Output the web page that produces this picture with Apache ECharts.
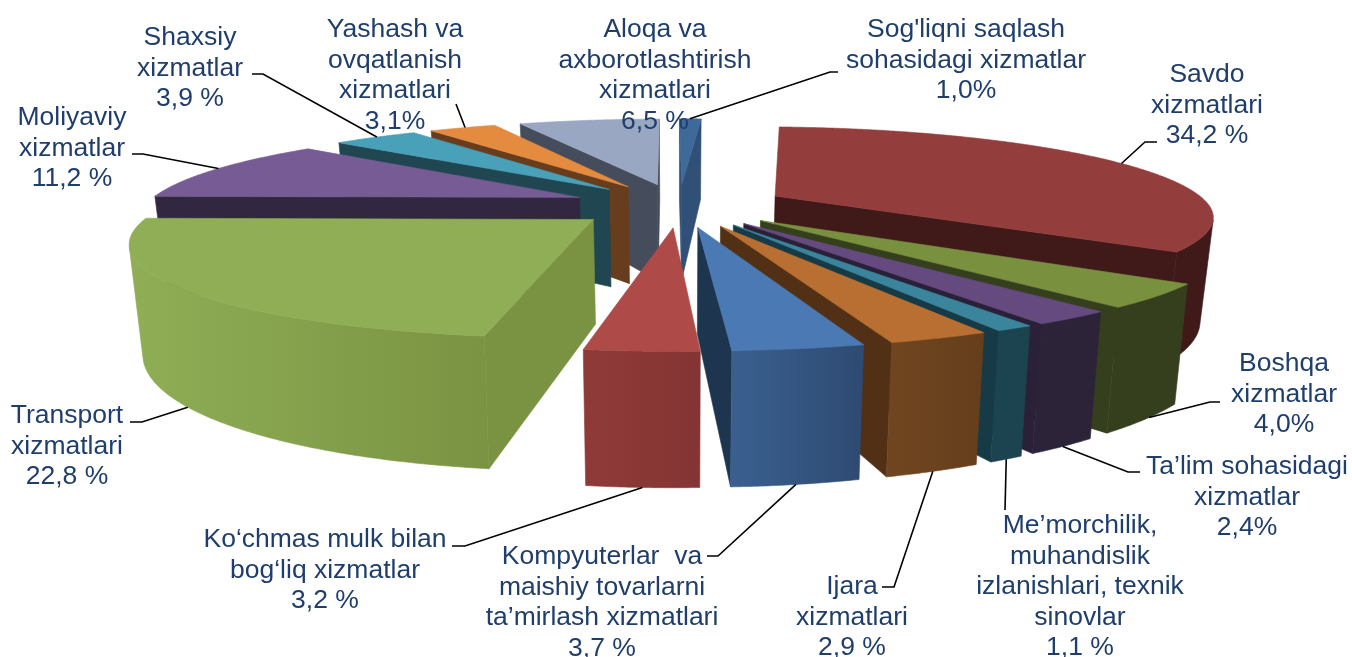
<!DOCTYPE html>
<html>
<head>
<meta charset="utf-8">
<title>Xizmatlar</title>
<script src="https://cdn.jsdelivr.net/npm/echarts@6/dist/echarts.min.js"></script>
<style>
  html, body { margin: 0; background: #fff; }
  #chart { width: 1352px; height: 657px; }
</style>
</head>
<body>
<div id="chart"></div>
<script>
// clockwise from the top, as in the source
var names = [
  'Savdo\nxizmatlari',
  'Boshqa\nxizmatlar',
  'Ta’lim sohasidagi\nxizmatlar',
  'Me’morchilik,\nmuhandislik\nizlanishlari, texnik\nsinovlar',
  'Ijara\nxizmatlari',
  'Kompyuterlar  va\nmaishiy tovarlarni\nta’mirlash xizmatlari',
  'Ko‘chmas mulk bilan\nbog‘liq xizmatlar',
  'Transport\nxizmatlari',
  'Moliyaviy\nxizmatlar',
  'Shaxsiy\nxizmatlar',
  'Yashash va\novqatlanish\nxizmatlari',
  'Aloqa va\naxborotlashtirish\nxizmatlari',
  'Sog\'liqni saqlash\nsohasidagi xizmatlar'
];
var values = [34.2, 4.0, 2.4, 1.1, 2.9, 3.7, 3.2, 22.8, 11.2, 3.9, 3.1, 6.5, 1.0];
var valueTexts = ['34,2 %', '4,0%', '2,4%', '1,1 %', '2,9 %', '3,7 %', '3,2 %', '22,8 %', '11,2 %', '3,9 %', '3,1%', '6,5 %', '1,0%'];

var topColors = ['#933d3c', '#79913f', '#644a7e', '#3a849c', '#b96f32', '#4a79b3', '#ae4a47', '#8fae55', '#765b94', '#48a0b9', '#e48b3f', '#9aa7c3', '#3d6a99'];
var cutColors = ['#401a18', '#363f1d', '#2a2038', '#163a46', '#513015', '#1e3550', '#8a3836', '#7a9343', '#322740', '#1f4651', '#683d1d', '#454c5b', '#305078'];
var wallLeft = ['#401a18', '#363f1d', '#2c2339', '#1b4350', '#704620', '#3a6090', '#8f3a38', '#8fae55', '#322740', '#1f4651', '#683d1d', '#454c5b', '#305078'];
var wallRight = ['#401a18', '#363f1d', '#2c2339', '#1b4350', '#653e1c', '#2e4a72', '#843533', '#7a9343', '#322740', '#1f4651', '#683d1d', '#454c5b', '#305078'];

// label centre x, first line centre y, leader elbow points, where the leader lands: [share of the rim, 0 top / 1 bottom]
var labelLayout = [
  { x: 1207, y: 75, line: [[1157, 142], [1145, 142]], at: [0.5, 0] },
  { x: 1284, y: 364, line: [[1220, 402], [1210, 402]], at: [0.44, 1] },
  { x: 1247, y: 467, line: [[1140, 472], [1128, 472]], at: [0.5, 1] },
  { x: 1080, y: 526, line: [[1005, 510]], at: [0.5, 1] },
  { x: 852, y: 587, line: [[882, 587], [894, 587]], at: [0.5, 1] },
  { x: 602, y: 557, line: [[707, 556], [718, 556]], at: [0.5, 1] },
  { x: 325, y: 540, line: [[452, 546], [465, 546]], at: [0.5, 1] },
  { x: 67, y: 416, line: [[130, 422], [142, 422]], at: [0.52, 1] },
  { x: 72, y: 118, line: [[132, 154], [143, 154]], at: [0.52, 0] },
  { x: 190, y: 38, line: [[252, 74], [263, 74]], at: [0.52, 0] },
  { x: 395, y: 30, line: [[456, 104]], at: [0.54, 0] },
  { x: 655, y: 30, line: [], at: null },
  { x: 966, y: 30, line: [[838, 72], [830, 72]], at: [0.48, 0] }
];

var textColor = '#1f3e6b';
var fontSize = 26.5;
var lineGap = 30.5;

// projection of the tilted pie
var centerX = 679;
var centerY = 205;
var radius = 434;
var tilt = 0.2;
var perspective = 0.207;
var thickness = 0.233;
var bottomShrink = 0.025;
var explode = 0.25;
var firstAngle = 3.3;

function project(x, y, z) {
  var scale = radius / (1 + perspective * y);
  var s2 = z ? scale * (1 - bottomShrink) : scale;
  return [centerX + s2 * x, centerY - scale * tilt * y + scale * thickness * z];
}

var total = values.reduce(function (a, b) { return a + b; }, 0);
var slices = [];
var acc = 0;
values.forEach(function (v) {
  var a0 = (firstAngle + acc / total * 360) * Math.PI / 180;
  acc += v;
  var a1 = (firstAngle + acc / total * 360) * Math.PI / 180;
  var mid = (a0 + a1) / 2;
  slices.push({ a0: a0, a1: a1, ox: Math.sin(mid) * explode, oy: Math.cos(mid) * explode });
});

function rimPoint(s, a, z) {
  return project(s.ox + Math.sin(a), s.oy + Math.cos(a), z);
}
function facing(p) {
  var area = 0;
  p.forEach(function (q, i) {
    var r = p[(i + 1) % p.length];
    area += q[0] * r[1] - r[0] * q[1];
  });
  return area;
}
function poly(points, color, z2) {
  return {
    type: 'polygon',
    z2: z2,
    shape: { points: points },
    style: { fill: color, stroke: color, lineWidth: 0.6 }
  };
}

function renderSlice(params, api) {
  var i = api.value(0);
  var s = slices[i];
  var z2 = Math.round((1 - Math.cos((s.a0 + s.a1) / 2)) * 100);
  var children = [];
  var c0 = project(s.ox, s.oy, 0), c1 = project(s.ox, s.oy, 1);
  // the two cut faces
  [[s.a0, 1], [s.a1, -1]].forEach(function (e) {
    var face = [c0, rimPoint(s, e[0], 0), rimPoint(s, e[0], 1), c1];
    if (facing(face) * e[1] < 0) children.push(poly(face, cutColors[i], z2));
  });
  // outer wall: only the part of the rim that faces the viewer
  var n = Math.max(40, Math.round((s.a1 - s.a0) * 120));
  var upper = [], lower = [];
  for (var k = 0; k < n; k++) {
    var a = s.a0 + (s.a1 - s.a0) * k / n;
    var b = s.a0 + (s.a1 - s.a0) * (k + 1) / n;
    var q = [rimPoint(s, a, 0), rimPoint(s, b, 0), rimPoint(s, b, 1), rimPoint(s, a, 1)];
    if (facing(q) < 0) {
      if (!upper.length) { upper.push(q[0]); lower.push(q[3]); }
      upper.push(q[1]);
      lower.push(q[2]);
    }
  }
  if (upper.length) {
    var shade = new echarts.graphic.LinearGradient(0, 0, 1, 0, [
      { offset: 0, color: wallLeft[i] },
      { offset: 1, color: wallRight[i] }
    ]);
    children.push(poly(upper.concat(lower.reverse()), shade, z2 + 1));
  }
  var top = [c0];
  for (var m = 0; m <= n; m++) top.push(rimPoint(s, s.a0 + (s.a1 - s.a0) * m / n, 0));
  children.push(poly(top, topColors[i], z2 + 2));
  return { type: 'group', children: children };
}

var graphics = [];
names.forEach(function (name, i) {
  var lay = labelLayout[i];
  graphics.push({
    type: 'text',
    z: 10,
    style: {
      text: name + '\n' + valueTexts[i],
      x: lay.x,
      y: lay.y - lineGap / 2,
      align: 'center',
      verticalAlign: 'top',
      fill: textColor,
      font: fontSize + 'px "Liberation Sans"',
      lineHeight: lineGap
    }
  });
  if (lay.at) {
    var s = slices[i];
    var end = rimPoint(s, s.a0 + (s.a1 - s.a0) * lay.at[0], lay.at[1]);
    graphics.push({
      type: 'polyline',
      z: 9,
      shape: { points: lay.line.concat([end]) },
      style: { stroke: '#000', lineWidth: 1.6, fill: null }
    });
  }
});

var chart = echarts.init(document.getElementById('chart'));
chart.setOption({
  animation: false,
  backgroundColor: '#fff',
  graphic: graphics,
  series: [{
    type: 'custom',
    coordinateSystem: 'none',
    renderItem: renderSlice,
    data: values.map(function (v, i) { return [i, v]; })
  }]
});
</script>
</body>
</html>
